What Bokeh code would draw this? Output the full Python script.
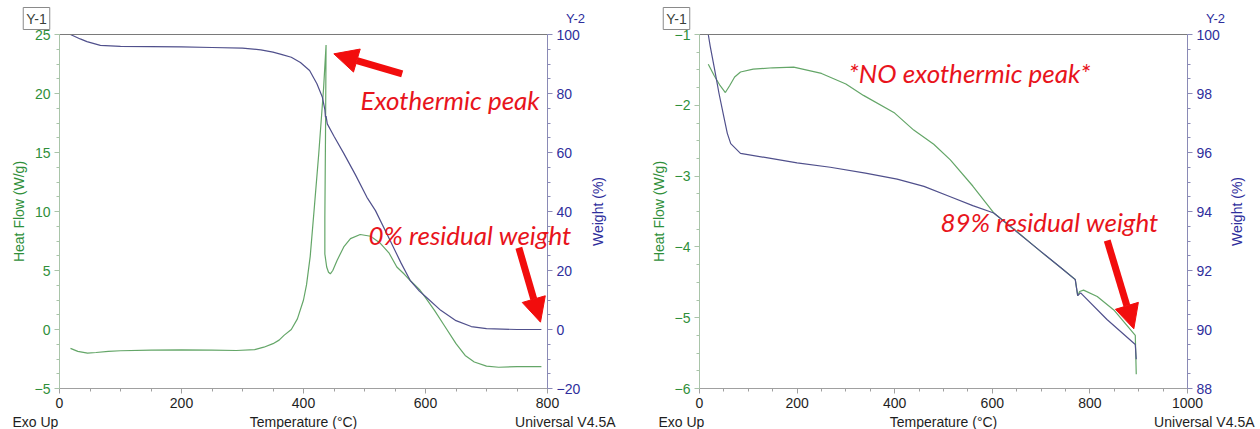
import math
from bokeh.plotting import figure
from bokeh.models import (Range1d, LinearAxis, SingleIntervalTicker, FixedTicker, Label, Arrow,
                          NormalHead)
from bokeh.layouts import row
from bokeh.embed import file_html
from bokeh.resources import INLINE

# ---------------- data: left chart (exothermic sample) ----------------
temp_hf_left = [18, 30, 46, 60, 80, 100, 150, 200, 250, 290, 320, 335, 350, 360, 368, 380, 390,
                400, 405, 411, 418, 425, 433, 437, 436, 435, 435, 438, 441, 444, 448, 455, 466,
                477, 493, 510, 526, 540, 553, 565, 575, 590, 600, 615, 630, 650, 665, 680, 700,
                720, 750, 790]
heat_flow_left = [-1.6, -1.85, -2.0, -1.95, -1.85, -1.8, -1.75, -1.72, -1.75, -1.78, -1.7, -1.5,
                  -1.2, -0.9, -0.5, 0.0, 0.9, 2.5, 3.8, 6.2, 10.5, 14.9, 20.5, 24.1, 16.0, 9.5,
                  6.4, 5.3, 4.85, 4.72, 5.0, 5.85, 7.0, 7.7, 8.05, 7.9, 7.3, 6.5, 5.3, 4.7, 4.15,
                  3.4, 2.7, 1.6, 0.4, -1.2, -2.2, -2.75, -3.1, -3.2, -3.15, -3.15]
temp_w_left = [18, 34, 45, 67, 100, 150, 200, 250, 300, 330, 350, 365, 380, 395, 410, 422, 431,
               435, 436, 437, 439, 450, 466, 485, 504, 518, 542, 560, 575, 590, 600, 625, 650,
               675, 700, 750, 790]
weight_left = [100, 98.5, 97.6, 96.3, 96.0, 95.9, 95.8, 95.6, 95.4, 94.8, 94.0, 93.2, 92.3, 90.5,
               87.8, 83.3, 78.7, 74.5, 72.0, 72.3, 69.7, 65.5, 59.7, 52.5, 44.8, 40.3, 30.2, 22.5,
               16.6, 13.0, 11.2, 6.5, 3.0, 1.0, 0.3, 0.0, 0.0]

# ---------------- data: right chart (no exotherm) ----------------
temp_hf_right = [18, 30, 42, 53, 62, 72, 84, 110, 150, 193, 250, 300, 336, 400, 439, 480, 514,
                 560, 603, 650, 700, 740, 770, 775, 779, 787, 815, 849, 893, 895]
heat_flow_right = [-1.42, -1.58, -1.72, -1.82, -1.72, -1.6, -1.53, -1.49, -1.47, -1.46, -1.55,
                   -1.7, -1.86, -2.11, -2.35, -2.55, -2.77, -3.14, -3.52, -3.78, -4.07, -4.29,
                   -4.46, -4.69, -4.63, -4.61, -4.70, -4.89, -5.25, -5.80]
temp_w_right = [18, 22, 30, 40, 50, 57, 64, 84, 146, 200, 268, 340, 405, 460, 514, 560, 603, 650,
                700, 740, 770, 775, 781, 835, 893, 895]
weight_right = [100, 99.6, 98.9, 98.0, 97.2, 96.65, 96.3, 95.97, 95.8, 95.65, 95.5, 95.3, 95.1,
                94.85, 94.5, 94.2, 93.95, 93.31, 92.64, 92.1, 91.69, 91.15, 91.24, 90.34, 89.49,
                88.99]

GREEN_TXT = "#2f8f3a"
BLUE_TXT = "#2e2e9c"
GREEN_LINE = "#64a668"
BLUE_LINE = "#50508c"
RED = "#e8141c"
ARROW_RED = "#f20d0d"
TICK_FONT = "Liberation Sans"
FIG_W, FIG_H = 630, 429
TOP_PX, BOTTOM_PX = 34, 388


def build(xmax, ymin, ymax, yint, wmin, wmax, wint, px_left, px_right):
    kx = (px_right - px_left) / xmax
    ky = (BOTTOM_PX - TOP_PX) / (ymax - ymin)
    kw = (BOTTOM_PX - TOP_PX) / (wmax - wmin)
    xr = Range1d(-px_left / kx, xmax + (FIG_W - px_right) / kx)
    yr = Range1d(ymin - (FIG_H - BOTTOM_PX) / ky, ymax + TOP_PX / ky)
    wr = Range1d(wmin - (FIG_H - BOTTOM_PX) / kw, wmax + TOP_PX / kw)
    p = figure(width=FIG_W, height=FIG_H, x_range=xr, y_range=yr,
               x_axis_type=None, y_axis_type=None,
               output_backend="svg", toolbar_location=None,
               min_border_left=0, min_border_right=0, min_border_top=0, min_border_bottom=0)
    p.extra_y_ranges = {"w": wr}
    p.grid.visible = False
    p.outline_line_color = None
    p.background_fill_color = "white"
    p.border_fill_color = "white"

    xa = LinearAxis(ticker=SingleIntervalTicker(interval=200, num_minor_ticks=4),
                    fixed_location=ymin, bounds=(0, xmax))
    ya = LinearAxis(ticker=SingleIntervalTicker(interval=yint, num_minor_ticks=4),
                    fixed_location=0, bounds=(ymin, ymax))
    wa = LinearAxis(y_range_name="w", ticker=SingleIntervalTicker(interval=wint, num_minor_ticks=4),
                    fixed_location=xmax, bounds=(wmin, wmax))
    ta = LinearAxis(ticker=FixedTicker(ticks=[]), fixed_location=ymax, bounds=(0, xmax))
    p.add_layout(xa, "below")
    p.add_layout(ya, "left")
    p.add_layout(wa, "right")
    p.add_layout(ta, "above")
    ta.axis_line_color = "#7a7a7a"
    ta.major_tick_line_color = None
    ta.minor_tick_line_color = None
    ta.major_label_text_font_size = "0px"

    for ax, lc, tc in ((xa, "#a0a0a0", "#1e1e1e"), (ya, "#a9c4a9", GREEN_TXT), (wa, "#8a8ab6", BLUE_TXT)):
        ax.axis_line_color = lc
        ax.major_tick_line_color = lc
        ax.minor_tick_line_color = lc
        ax.major_tick_out = 5
        ax.major_tick_in = 0
        ax.minor_tick_out = 3
        ax.minor_tick_in = 0
        ax.major_label_text_color = tc
        ax.major_label_text_font = TICK_FONT
        ax.major_label_text_font_size = "14px"
        ax.major_label_standoff = 4

    def at(px, py):
        # canvas pixel -> data coordinates (for layout texts)
        return (xr.start + px / kx, yr.end - py / ky)
    return p, at


def frame_texts(p, at, y1_px, y2_px, hf_px, w_px, temp_px, exo_px, univ_px):
    def lab(pos, txt, color, align="center", angle=0.0, size="14px", **kw):
        x, y = at(*pos)
        p.add_layout(Label(x=x, y=y, text=txt, text_font=TICK_FONT, text_font_size=size,
                           text_color=color, text_align=align, text_baseline="middle",
                           angle=angle, **kw))
    lab((y1_px, 18), "Y-1", "#3a3f3a", size="14px", border_line_color="#8a8a8a",
        background_fill_color="white", padding=3)
    lab((y2_px, 18), "Y-2", BLUE_TXT, size="13px")
    lab((hf_px, 211), "Heat Flow (W/g)", GREEN_TXT, angle=math.pi / 2)
    lab((w_px, 211), "Weight (%)", BLUE_TXT, angle=math.pi / 2)
    lab((temp_px, 421), "Temperature (°C)", "#1e1e1e")
    lab((exo_px, 421), "Exo Up", "#1e1e1e", align="left")
    lab((univ_px, 421), "Universal V4.5A", "#1e1e1e", align="right")


def red_text(p, x, y, txt):
    p.add_layout(Label(x=x, y=y, text=txt, text_font="Lato", text_font_style="italic",
                       text_font_size="26px", text_color=RED, text_align="left",
                       text_baseline="alphabetic"))


def red_arrow(p, xs, ys, xe, ye):
    p.add_layout(Arrow(end=NormalHead(size=24, fill_color=ARROW_RED, line_color=ARROW_RED),
                       x_start=xs, y_start=ys, x_end=xe, y_end=ye,
                       line_color=ARROW_RED, line_width=7))


# ---------------- left chart ----------------
p1, at1 = build(800, -5, 25, 5, -20, 100, 20, 59, 547)
p1.line(temp_hf_left, heat_flow_left, line_color=GREEN_LINE, line_width=1.2)
p1.line(temp_w_left, weight_left, line_color=BLUE_LINE, line_width=1.2, y_range_name="w")
frame_texts(p1, at1, 36, 575, 18, 597, 303, 12, 615)
red_text(p1, 493.4, 19.41, "Exothermic peak")
red_text(p1, 506.6, 8.05, "0% residual weight")
red_arrow(p1, 561.8, 21.67, 449.7, 23.36)
red_arrow(p1, 753, 6.92, 788.5, 0.62)

# ---------------- right chart ----------------
p2, at2 = build(1000, -6, -1, 1, 88, 100, 2, 69, 557)
p2.line(temp_hf_right, heat_flow_right, line_color=GREEN_LINE, line_width=1.2)
p2.line(temp_w_right, weight_right, line_color=BLUE_LINE, line_width=1.2, y_range_name="w")
frame_texts(p2, at2, 46, 585, 28, 606, 313, 28, 624)
red_text(p2, 305.3, -1.537, "*NO exothermic peak*")
red_text(p2, 493.9, -3.655, "89% residual weight")
red_arrow(p2, 835.5, -3.91, 890, -5.157)

layout = row(p1, p2)
open("out.html", "w").write(file_html(layout, INLINE))
